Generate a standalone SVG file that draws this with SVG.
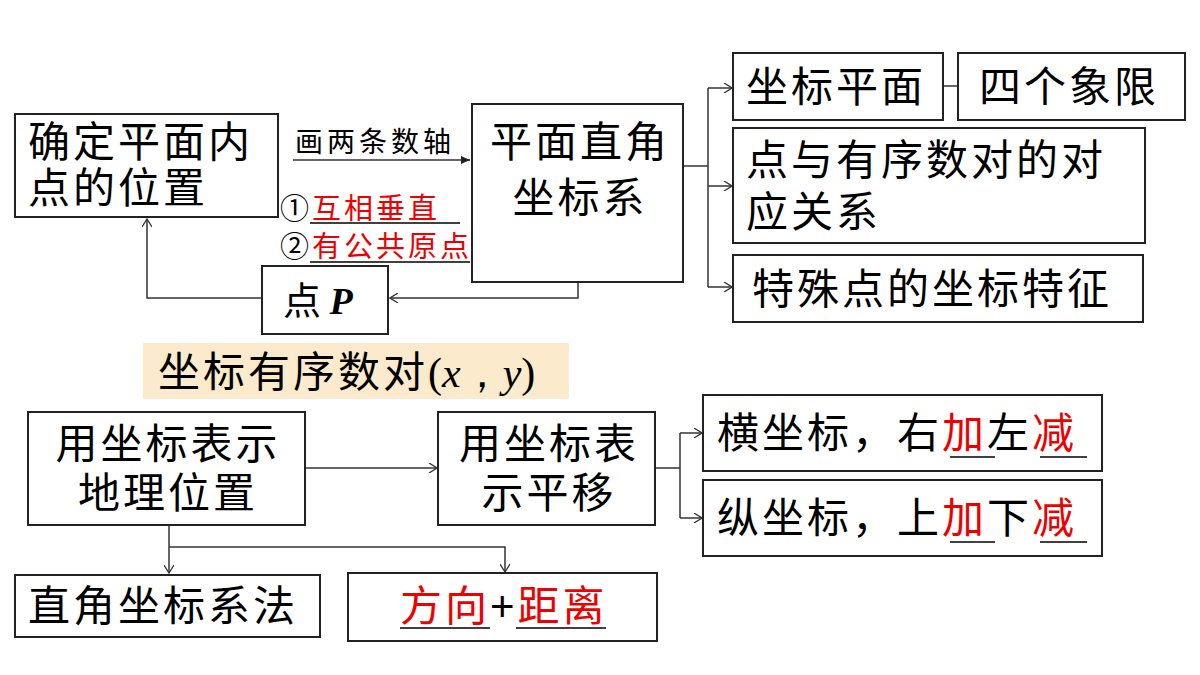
<svg xmlns="http://www.w3.org/2000/svg" width="1200" height="675" viewBox="0 0 1200 675">
<style>
text{font-family:"Noto Sans CJK SC","Noto Sans",sans-serif;fill:#000}
.t{font-size:42px;letter-spacing:3px}
.b{fill:#fff;stroke:#222;stroke-width:2}
.c{fill:none;stroke:#333;stroke-width:1.5}
.r{fill:#e00}
.u{stroke:#000;stroke-width:1.5}
</style>
<defs><marker id="a" markerWidth="10" markerHeight="10" refX="9" refY="5" orient="auto" markerUnits="userSpaceOnUse"><path d="M1,0 L9,5 L1,10" fill="none" stroke="#333" stroke-width="1.3"/></marker>
<marker id="f" markerWidth="10" markerHeight="10" refX="9" refY="5" orient="auto" markerUnits="userSpaceOnUse"><path d="M0,1 L9,5 L0,9z" fill="#222"/></marker></defs>
<rect width="1200" height="675" fill="#fff"/>
<g id="connectors">
<line class="c" x1="293" y1="160" x2="470" y2="160" marker-end="url(#f)"/>
<polyline class="c" points="578,282 578,298 390,298" marker-end="url(#a)"/>
<polyline class="c" points="262,298 147,298 147,219" marker-end="url(#a)"/>
<line class="c" x1="683" y1="166" x2="708" y2="166"/>
<line class="c" x1="708" y1="88" x2="708" y2="287"/>
<line class="c" x1="708" y1="88" x2="732" y2="88" marker-end="url(#a)"/>
<line class="c" x1="708" y1="186" x2="732" y2="186" marker-end="url(#a)"/>
<line class="c" x1="708" y1="287" x2="732" y2="287" marker-end="url(#a)"/>
<line class="c" x1="943" y1="86" x2="958" y2="86"/>
<line class="c" x1="305" y1="468" x2="437" y2="468" marker-end="url(#a)"/>
<line class="c" x1="655" y1="468" x2="680" y2="468"/>
<line class="c" x1="680" y1="433" x2="680" y2="518"/>
<line class="c" x1="680" y1="433" x2="702" y2="433" marker-end="url(#a)"/>
<line class="c" x1="680" y1="518" x2="702" y2="518" marker-end="url(#a)"/>
<line class="c" x1="169" y1="525" x2="169" y2="573" marker-end="url(#a)"/>
<polyline class="c" points="169,547 505,547 505,572" marker-end="url(#a)"/>
</g>
<g id="label1"><text x="295" y="152" font-size="28" letter-spacing="4">画两条数轴</text>
<text x="280" y="219" font-size="29" letter-spacing="3">①<tspan class="r">互相垂直</tspan></text>
<line class="u" x1="310" y1="223" x2="460" y2="223"/>
<text x="280" y="257" font-size="29" letter-spacing="3">②<tspan class="r">有公共原点</tspan></text>
<line class="u" x1="310" y1="262" x2="470" y2="262"/></g>
<g id="n1"><rect class="b" x="15" y="114" width="263" height="103"/>
<text x="28" y="157" class="t">确定平面内</text><text x="28" y="203" class="t">点的位置</text></g>
<g id="n2"><rect class="b" x="472" y="104" width="211" height="178"/>
<text x="580" y="157" class="t" text-anchor="middle">平面直角</text><text x="580" y="213" class="t" text-anchor="middle">坐标系</text></g>
<g id="n3"><rect class="b" x="262" y="266" width="126" height="68"/>
<text x="283" y="314" font-size="38">点 <tspan font-family="Liberation Serif,serif" font-weight="bold" font-style="italic">P</tspan></text></g>
<g id="n4"><rect x="143" y="343" width="426" height="56" fill="#fbeacb"/>
<text x="158" y="387" class="t">坐标有序数对<tspan font-family="Liberation Serif,serif" letter-spacing="0">(<tspan font-style="italic">x</tspan>，<tspan font-style="italic">y</tspan>)</tspan></text></g>
<g id="n5"><rect class="b" x="733" y="53" width="210" height="67"/><text x="746" y="102" class="t">坐标平面</text></g>
<g id="n6"><rect class="b" x="958" y="53" width="227" height="67"/><text x="979" y="102" class="t">四个象限</text></g>
<g id="n7"><rect class="b" x="733" y="128" width="412" height="115"/>
<text x="746" y="175" class="t">点与有序数对的对</text><text x="746" y="227" class="t">应关系</text></g>
<g id="n8"><rect class="b" x="733" y="255" width="410" height="67"/><text x="752" y="304" class="t">特殊点的坐标特征</text></g>
<g id="n9"><rect class="b" x="28" y="412" width="277" height="113"/>
<text x="168" y="459" class="t" text-anchor="middle">用坐标表示</text><text x="168" y="508" class="t" text-anchor="middle">地理位置</text></g>
<g id="n10"><rect class="b" x="438" y="412" width="217" height="113"/>
<text x="549" y="459" class="t" text-anchor="middle">用坐标表</text><text x="549" y="508" class="t" text-anchor="middle">示平移</text></g>
<g id="n11"><rect class="b" x="703" y="395" width="399" height="76"/>
<text x="717" y="448" class="t">横坐标，右<tspan class="r">加</tspan>左<tspan class="r">减</tspan></text>
<line class="u" x1="950" y1="457" x2="995" y2="457"/><line class="u" x1="1040" y1="457" x2="1087" y2="457"/></g>
<g id="n12"><rect class="b" x="703" y="480" width="399" height="76"/>
<text x="717" y="533" class="t">纵坐标，上<tspan class="r">加</tspan>下<tspan class="r">减</tspan></text>
<line class="u" x1="950" y1="542" x2="995" y2="542"/><line class="u" x1="1040" y1="542" x2="1087" y2="542"/></g>
<g id="n13"><rect class="b" x="15" y="575" width="305" height="62"/><text x="28" y="621" class="t">直角坐标系法</text></g>
<g id="n14"><rect class="b" x="348" y="573" width="309" height="68"/>
<text x="400" y="621" class="t"><tspan class="r">方向</tspan><tspan font-family="Liberation Sans,sans-serif">+</tspan><tspan class="r">距离</tspan></text>
<line class="u" x1="400" y1="628" x2="490" y2="628"/><line class="u" x1="516" y1="628" x2="606" y2="628"/></g>
</svg>
